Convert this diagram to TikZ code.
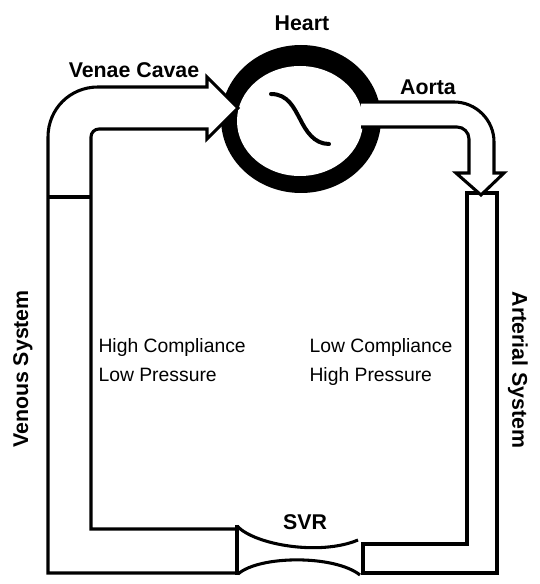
\documentclass[tikz,border=0pt]{standalone}
\usepackage{fontspec}
\setmainfont{Liberation Sans}
\begin{document}
\begin{tikzpicture}[x=0.75pt, y=-0.75pt, line width=2.3pt]
    \tikzset{
        tube/.style={draw=black, fill=white, line width=2.3pt},
        lbl/.style={font=\fontsize{16}{19}\selectfont\bfseries, inner sep=0pt},
        txt/.style={font=\fontsize{14.5}{17}\selectfont, inner sep=0pt},
    }
    % 0. Khung hình
    \useasboundingbox (0,0) rectangle (539,584);

    % 1. Vòng tim
    \fill[black] (301,119) ellipse [x radius=80, y radius=74];
    \fill[white] (300,121) ellipse [x radius=63, y radius=55];
    \draw[line width=3pt, line cap=round, black]
        (271,94) .. controls (288,94) and (294,108) .. (300,119)
        .. controls (306,131) and (314,144) .. (329,144);

    % 2. Tĩnh mạch chủ (ống trái + mũi tên vào tim)
    \draw[tube] (237,573) -- (48,573) -- (48,137)
        .. controls (48,109) and (70,87) .. (98,87) -- (207,87)
        -- (207,77) -- (238,108) -- (207,139) -- (207,129) -- (99,129)
        .. controls (94.6,129) and (91,132.6) .. (91,137) -- (91,529) -- (237,529);
    \draw (48,197) -- (91,197);

    % 3. Ống động mạch (bên phải)
    \draw[tube] (363,544) -- (467,544) -- (467,193) -- (497,193)
        -- (497,573) -- (363,573) -- cycle;

    % 4. Động mạch chủ (ra khỏi tim)
    \draw[tube] (361,102) -- (454,102)
        .. controls (476,102) and (494,120) .. (494,142) -- (494,173)
        -- (504,173) -- (481,195) -- (456,173) -- (469,173) -- (469,139)
        .. controls (469,132.4) and (463.6,127) .. (457,127) -- (361,127);

    % 5. SVR (chỗ thắt)
    \draw (237,525) -- (237,575);
    \draw (237,526) .. controls (255,545) and (320,556) .. (358,540);
    \draw (238,574) .. controls (260,555) and (335,555) .. (360,575);

    % 6. Nhãn
    \node[lbl] (heart) at (302,23) {Heart};
    \node[lbl] (venae) at (134,70) {Venae Cavae};
    \node[lbl] (aorta) at (428,87) {Aorta};
    \node[lbl] (svr) at (305,522) {SVR};
    \node[lbl, rotate=90] (venous) at (23,369) {Venous System};
    \node[lbl, rotate=-90] (arterial) at (518,370) {Arterial System};

    % 7. Ghi chú hai bên
    \node[txt, anchor=base west] (hicomp) at (97,352) {High Compliance};
    \node[txt, anchor=base west] (lopress) at (97,381) {Low Pressure};
    \node[txt, anchor=base west] (locomp) at (308,352) {Low Compliance};
    \node[txt, anchor=base west] (hipress) at (308,381) {High Pressure};
\end{tikzpicture}
\end{document}
